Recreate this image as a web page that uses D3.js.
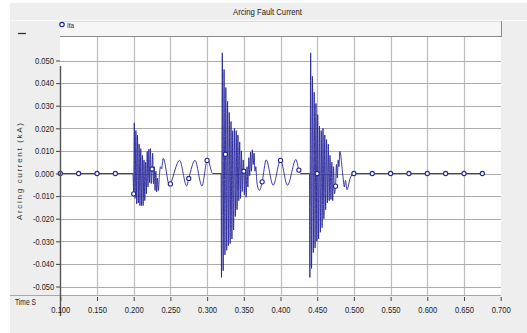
<!DOCTYPE html>
<html><head><meta charset="utf-8">
<script src="https://cdn.jsdelivr.net/npm/d3@7"></script>
<style>body{margin:0;background:#fff;} svg{display:block;font-family:"Liberation Sans",Arial,sans-serif;}</style>
</head><body><svg id="c" width="527" height="333"></svg>
<script>
const chartTitle = "Arcing Fault Current";
const seriesName = "Ifa";
const yAxisTitle = "Arcing current (kA)";
const xAxisTitle = "Time S";
const xTicks = [0.1,0.15,0.2,0.25,0.3,0.35,0.4,0.45,0.5,0.55,0.6,0.65,0.7];
const yTicks = [0.05,0.04,0.03,0.02,0.01,0,-0.01,-0.02,-0.03,-0.04,-0.05];
const markerTimes = [0.1,0.125,0.15,0.175,0.2,0.225,0.25,0.275,0.3,0.325,0.35,0.375,0.4,0.425,0.45,0.475,0.5,0.525,0.55,0.575,0.6,0.625,0.65,0.675];
const markerValues = [0,0,0,0,-0.009,0.002,-0.0046,-0.0022,0.0058,0.0085,0.001,-0.0037,0.0058,0.0015,0,-0.0056,0,0,0,0,0,0,0,0];
const ifaLead = [[0.1,0],[0.125,0],[0.15,0],[0.175,0]];
const ifaBurst1 = [[0.1990,0],[0.2000,-0.009],[0.2008,0.0224],[0.2019,-0.011],[0.2030,0.019],[0.2041,-0.0134],[0.2052,0.017],[0.2063,-0.013],[0.2074,0.013],[0.2085,-0.0142],[0.2096,0.011],[0.2107,-0.0142],[0.2118,0.008],[0.2129,-0.0142],[0.2140,0.006],[0.2151,-0.012],[0.2162,0.005],[0.2173,-0.009],[0.2184,0.0097],[0.2195,-0.006],[0.2206,0.0108],[0.2217,-0.004],[0.2228,0.011],[0.2239,-0.0045],[0.2250,0.002],[0.2258,0.009],[0.2269,-0.0045],[0.2280,0.003],[0.2291,-0.0075],[0.2302,0.001],[0.2313,-0.0082],[0.2324,-0.002],[0.2336,-0.0075],[0.2350,-0.001],[0.2365,0.003],[0.2380,0.002],[0.2403,0.0067],[0.2488,-0.0053],[0.2500,-0.0046],[0.2625,0.0058],[0.2722,-0.0055],[0.2750,-0.0022],[0.2835,0.0058],[0.2930,-0.0055],[0.3000,0.0058],[0.3010,0.0060],[0.3075,0]];
const ifaBurst2 = [[0.3190,0],[0.3196,-0.046],[0.3207,0.0534],[0.3219,-0.043],[0.3231,0.046],[0.3243,-0.036],[0.3250,0.0085],[0.3255,0.038],[0.3267,-0.034],[0.3279,0.032],[0.3290,-0.032],[0.3302,0.027],[0.3314,-0.031],[0.3326,0.023],[0.3338,-0.029],[0.3349,0.019],[0.3361,-0.025],[0.3373,0.020],[0.3385,-0.019],[0.3397,0.019],[0.3408,-0.016],[0.3420,0.017],[0.3432,-0.012],[0.3444,0.014],[0.3456,-0.011],[0.3467,0.010],[0.3479,-0.008],[0.3491,0.006],[0.3500,0.001],[0.3508,-0.0095],[0.3520,0.002],[0.3532,-0.0105],[0.3544,0.003],[0.3556,-0.006],[0.3568,0.007],[0.3580,-0.001],[0.3592,0.0095],[0.3604,0.001],[0.3616,0.0105],[0.3628,0.004],[0.3640,0.009],[0.3652,0.001],[0.3664,0.003],[0.3676,-0.003],[0.3690,-0.006],[0.3714,-0.0075],[0.3750,-0.0037],[0.3805,0.0060],[0.3900,-0.0052],[0.4000,0.0058],[0.4095,-0.0052],[0.4210,0.0062],[0.4250,0.0015],[0.4270,0]];
const ifaBurst3 = [[0.4395,0],[0.4400,-0.046],[0.4411,0.0534],[0.4423,-0.042],[0.4435,0.043],[0.4447,-0.035],[0.4459,0.036],[0.4471,-0.033],[0.4483,0.031],[0.4495,-0.030],[0.4500,0],[0.4507,0.026],[0.4519,-0.029],[0.4531,0.021],[0.4543,-0.026],[0.4555,0.019],[0.4567,-0.024],[0.4579,0.020],[0.4591,-0.020],[0.4603,0.017],[0.4615,-0.016],[0.4627,0.015],[0.4639,-0.013],[0.4651,0.013],[0.4663,-0.012],[0.4675,0.008],[0.4687,-0.0115],[0.4699,0.005],[0.4711,-0.012],[0.4723,0.003],[0.4735,-0.009],[0.4750,-0.0056],[0.4762,0.004],[0.4774,-0.002],[0.4786,0.006],[0.4796,0.003],[0.4808,0.0098],[0.4850,-0.001],[0.4870,-0.006],[0.4885,-0.003],[0.4905,-0.0072],[0.4950,-0.002],[0.5000,0]];
const ifaTail = [[0.525,0],[0.55,0],[0.575,0],[0.6,0],[0.625,0],[0.65,0],[0.675,0]];

const svg = d3.select("#c");
const x = d3.scaleLinear().domain([0.1,0.7]).range([60.3,500.7]);
const y = d3.scaleLinear().domain([-0.05,0.05]).range([286.5,60.5]);
const plotL = 60, plotR = 501, plotT = 37, plotB = 295;
const navy = "#25259a";

// panels
svg.append("rect").attr("x",10).attr("y",3).attr("width",517).attr("height",330).attr("fill","#eeeeee");
svg.append("line").attr("x1",10).attr("x2",527).attr("y1",20.5).attr("y2",20.5).attr("stroke","#fafafa");
svg.append("text").attr("x",267.5).attr("y",14.5).attr("text-anchor","middle").attr("font-size",9)
  .attr("textLength",69).attr("lengthAdjust","spacingAndGlyphs").attr("fill","#222").text(chartTitle);
// legend bar
svg.append("rect").attr("x",plotL).attr("y",21).attr("width",plotR-plotL).attr("height",16).attr("fill","#f6f6f6");
svg.append("line").attr("x1",plotL).attr("x2",plotR).attr("y1",21.5).attr("y2",21.5).attr("stroke","#dddddd");
svg.append("line").attr("x1",plotR+0.5).attr("x2",plotR+0.5).attr("y1",21).attr("y2",37).attr("stroke","#8a8a8a");
svg.append("line").attr("x1",plotL).attr("x2",plotR+1).attr("y1",36.5).attr("y2",36.5).attr("stroke","#8a8a8a");
svg.append("circle").attr("cx",62).attr("cy",24.5).attr("r",2.2).attr("fill","#fff").attr("stroke",navy).attr("stroke-width",1.2);
svg.append("text").attr("x",67).attr("y",28).attr("font-size",8).attr("textLength",7).attr("lengthAdjust","spacingAndGlyphs").attr("fill","#222").text(seriesName);
svg.append("line").attr("x1",18).attr("x2",26).attr("y1",33.5).attr("y2",33.5).attr("stroke","#333").attr("stroke-width",1.3);

// plot area
svg.append("rect").attr("x",plotL).attr("y",plotT).attr("width",plotR-plotL).attr("height",plotB-plotT).attr("fill","#ffffff");
svg.append("g").selectAll("line").data(xTicks.filter(d=>d>0.1 && d<0.7)).join("line")
  .attr("x1",d=>Math.round(x(d))+0.5).attr("x2",d=>Math.round(x(d))+0.5).attr("y1",plotT).attr("y2",plotB)
  .attr("stroke","#bdbdbd").attr("stroke-width",1.2);
svg.append("g").selectAll("line").data(yTicks).join("line")
  .attr("x1",plotL).attr("x2",plotR).attr("y1",d=>Math.round(y(d))+0.5).attr("y2",d=>Math.round(y(d))+0.5)
  .attr("stroke","#acacac").attr("stroke-width",1.2);
svg.append("line").attr("x1",10).attr("x2",plotR).attr("y1",plotB+0.5).attr("y2",plotB+0.5).attr("stroke","#a8a8a8");

// series
const ifaData = [].concat(ifaLead, ifaBurst1, ifaBurst2, ifaBurst3, ifaTail);
const lineGen = d3.line().x(d=>x(d[0])).y(d=>y(d[1])).curve(d3.curveMonotoneX);
svg.append("path").datum(ifaData).attr("d",lineGen).attr("fill","none").attr("stroke",navy).attr("stroke-width",0.9).attr("stroke-linejoin","round");
svg.append("g").selectAll("circle").data(markerTimes.map((t,i)=>[t,markerValues[i]])).join("circle")
  .attr("cx",d=>x(d[0])).attr("cy",d=>y(d[1])).attr("r",2.1).attr("fill","#fff").attr("stroke",navy).attr("stroke-width",1.1);

// y axis
svg.append("line").attr("x1",60.5).attr("x2",60.5).attr("y1",66).attr("y2",316).attr("stroke","#555").attr("stroke-width",1.4);
const yAxis = svg.append("g").attr("transform","translate(60,0)")
  .call(d3.axisLeft(y).tickValues(yTicks).tickFormat(d=>d.toFixed(3)).tickSize(4).tickPadding(2));
yAxis.select(".domain").remove();
yAxis.selectAll(".tick line").attr("stroke","#444");
yAxis.selectAll(".tick text").attr("font-size",8.5).attr("fill","#222").attr("font-family","Liberation Sans, Arial, sans-serif")
  .attr("textLength",d=>d<0?21:19).attr("lengthAdjust","spacingAndGlyphs");
// x axis
const xAxis = svg.append("g").attr("transform","translate(0,297)")
  .call(d3.axisBottom(x).tickValues(xTicks).tickFormat(d=>d.toFixed(3)).tickSize(4).tickPadding(6));
xAxis.select(".domain").remove();
xAxis.selectAll(".tick line").attr("stroke","#444");
xAxis.selectAll(".tick text").attr("font-size",8.5).attr("fill","#222").attr("font-family","Liberation Sans, Arial, sans-serif")
  .attr("textLength",19).attr("lengthAdjust","spacingAndGlyphs");
svg.append("text").attr("x",15).attr("y",305).attr("font-size",8.5).attr("textLength",21).attr("lengthAdjust","spacingAndGlyphs").attr("fill","#222").text(xAxisTitle);
svg.append("text").attr("transform","translate(21.5,171.5) rotate(-90)").attr("text-anchor","middle").attr("font-size",8)
  .attr("textLength",97).attr("lengthAdjust","spacing").attr("fill","#333").text(yAxisTitle);
</script></body></html>
